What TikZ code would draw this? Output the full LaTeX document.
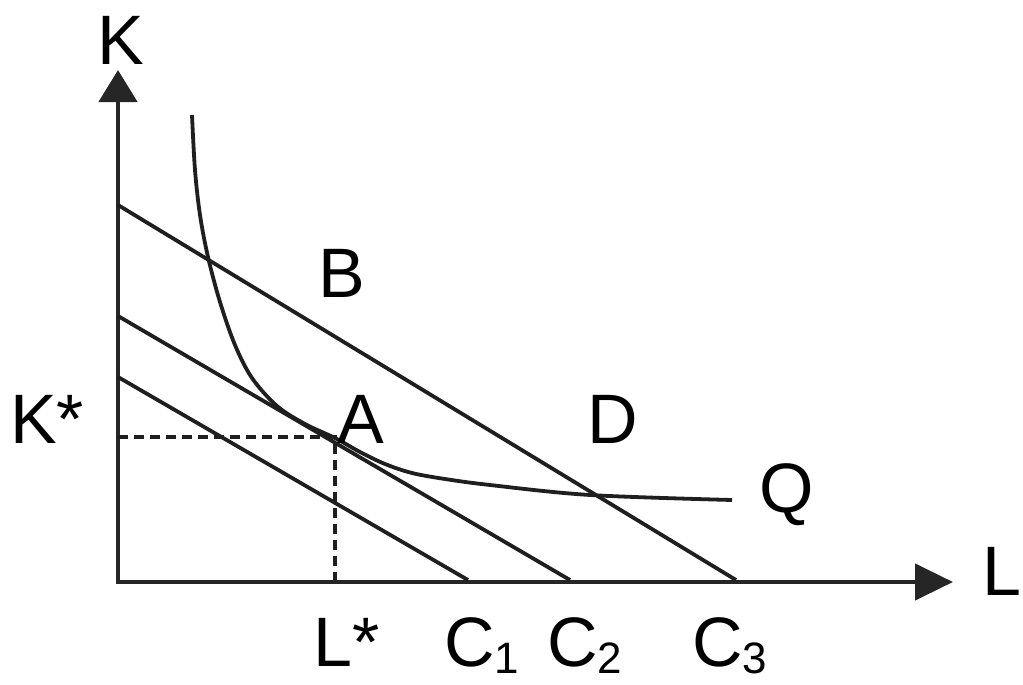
\documentclass[tikz,border=0pt]{standalone}
\usepackage{fontspec}
\setmainfont{Liberation Sans}
\usetikzlibrary{arrows.meta}
\newcommand\lowsub[1]{\raisebox{-7pt}{\fontsize{44}{44}\selectfont #1}}
\begin{document}
\begin{tikzpicture}[x=1pt,y=-1pt,
  curve/.style={line width=3.8pt, color=black!88},
  axisline/.style={line width=4.5pt, black!85, arrows={Triangle[length=32pt,width=38pt]-Triangle[length=38pt,width=36pt]}},
  dashline/.style={line width=4pt, black!88, dash pattern=on 10pt off 6pt},
  lbl/.style={anchor=base west, inner sep=0pt, font=\fontsize{70}{80}\selectfont}]
\useasboundingbox (0,0) rectangle (1023,685);
% axes
\coordinate (ytip) at (118,70);
\coordinate (O) at (118,582);
\coordinate (xtip) at (953,582);
\draw[axisline] (ytip) -- (O) -- (xtip);
% budget lines
\coordinate (c3a) at (118,205);
\coordinate (c3b) at (736,580);
\coordinate (c2a) at (118,316);
\coordinate (c2b) at (570,580);
\coordinate (c1a) at (118,377);
\coordinate (c1b) at (468,580);
\draw[curve] (c3a) -- (c3b);
\draw[curve] (c2a) -- (c2b);
\draw[curve] (c1a) -- (c1b);
% isoquant
\draw[curve] plot[smooth, tension=0.55] coordinates {(192,115) (195,170) (200,215) (208,257) (220,302) (235,345) (252,378) (277,406) (305,424) (335,438) (360,452) (385,464) (412,473) (445,479) (490,485) (590,495) (732,500)};
% dashed guides
\coordinate (A) at (335,437);
\coordinate (Ky) at (118,437);
\coordinate (Lx) at (335,580);
\draw[dashline] (Ky) -- (A) -- (Lx);
% labels
\node[lbl] (lK) at (97,65) {K};
\node[lbl] (lL) at (982,595) {L};
\node[lbl] (lKs) at (10,443) {K*};
\node[lbl] (lLs) at (313,666) {L*};
\node[lbl] (lC1) at (444,666) {C\lowsub{1}};
\node[lbl] (lC2) at (547,666) {C\lowsub{2}};
\node[lbl] (lC3) at (692,666) {C\lowsub{3}};
\node[lbl] (lA) at (337,443) {A};
\node[lbl] (lB) at (318,297) {B};
\node[lbl] (lD) at (587,443) {D};
\node[lbl] (lQ) at (759,512) {Q};
\end{tikzpicture}
\end{document}
